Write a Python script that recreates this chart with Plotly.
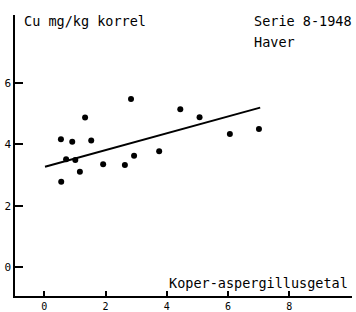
import plotly.graph_objects as go

# Data
aspergillus = [0.54, 0.91, 1.53, 1.33, 2.83, 0.71, 1.01, 0.55, 1.16, 1.92, 2.63, 2.93, 3.75, 4.44, 5.07, 6.06, 7.01]
cu_values   = [4.16, 4.08, 4.12, 4.87, 5.47, 3.51, 3.49, 2.78, 3.11, 3.35, 3.33, 3.63, 3.77, 5.14, 4.88, 4.33, 4.50]
fit_x = [0.02, 7.05]
fit_y = [3.27, 5.19]
x_ticks = [0, 2, 4, 6, 8]
y_ticks = [0, 2, 4, 6]

FONT = "DejaVu Sans Mono"

fig = go.Figure()
fig.add_trace(go.Scatter(x=fit_x, y=fit_y, mode="lines",
                         line=dict(color="black", width=2), showlegend=False))
fig.add_trace(go.Scatter(x=aspergillus, y=cu_values, mode="markers",
                         marker=dict(color="black", size=6), showlegend=False))

fig.update_layout(
    width=356, height=312,
    margin=dict(l=15, r=4, t=15, b=16),
    paper_bgcolor="white", plot_bgcolor="white",
    font=dict(family=FONT, size=10, color="black"),
    xaxis=dict(range=[-0.96, 10.05], tickvals=x_ticks, ticktext=[str(v) for v in x_ticks],
               showgrid=False, zeroline=False, showline=True, linecolor="black", linewidth=1.5,
               ticks="inside", ticklen=5, tickwidth=1.5, tickcolor="black",
               automargin=False, tickfont=dict(family=FONT, size=10)),
    yaxis=dict(range=[-0.93, 8.2], tickvals=y_ticks, ticktext=[str(v) for v in y_ticks],
               showgrid=False, zeroline=False, showline=True, linecolor="black", linewidth=1.5,
               ticks="inside", ticklen=8, tickwidth=1.5, tickcolor="black",
               automargin=False, tickfont=dict(family=FONT, size=11)),
    annotations=[
        dict(x=-0.73, y=8.0, text="Cu mg/kg korrel", showarrow=False, xanchor="left",
             yanchor="middle", font=dict(family=FONT, size=13.5)),
        dict(x=6.78, y=8.0, text="Serie 8-1948", showarrow=False, xanchor="left",
             yanchor="middle", font=dict(family=FONT, size=13.5)),
        dict(x=6.78, y=7.33, text="Haver", showarrow=False, xanchor="left",
             yanchor="middle", font=dict(family=FONT, size=13.5)),
        dict(x=4.01, y=-0.51, text="Koper-aspergillusgetal", showarrow=False, xanchor="left",
             yanchor="middle", font=dict(family=FONT, size=13.5)),
    ],
)

fig.write_html("out.html", config={"displayModeBar": False},
               post_script="document.body.style.margin='0';document.body.style.overflow='hidden';")
